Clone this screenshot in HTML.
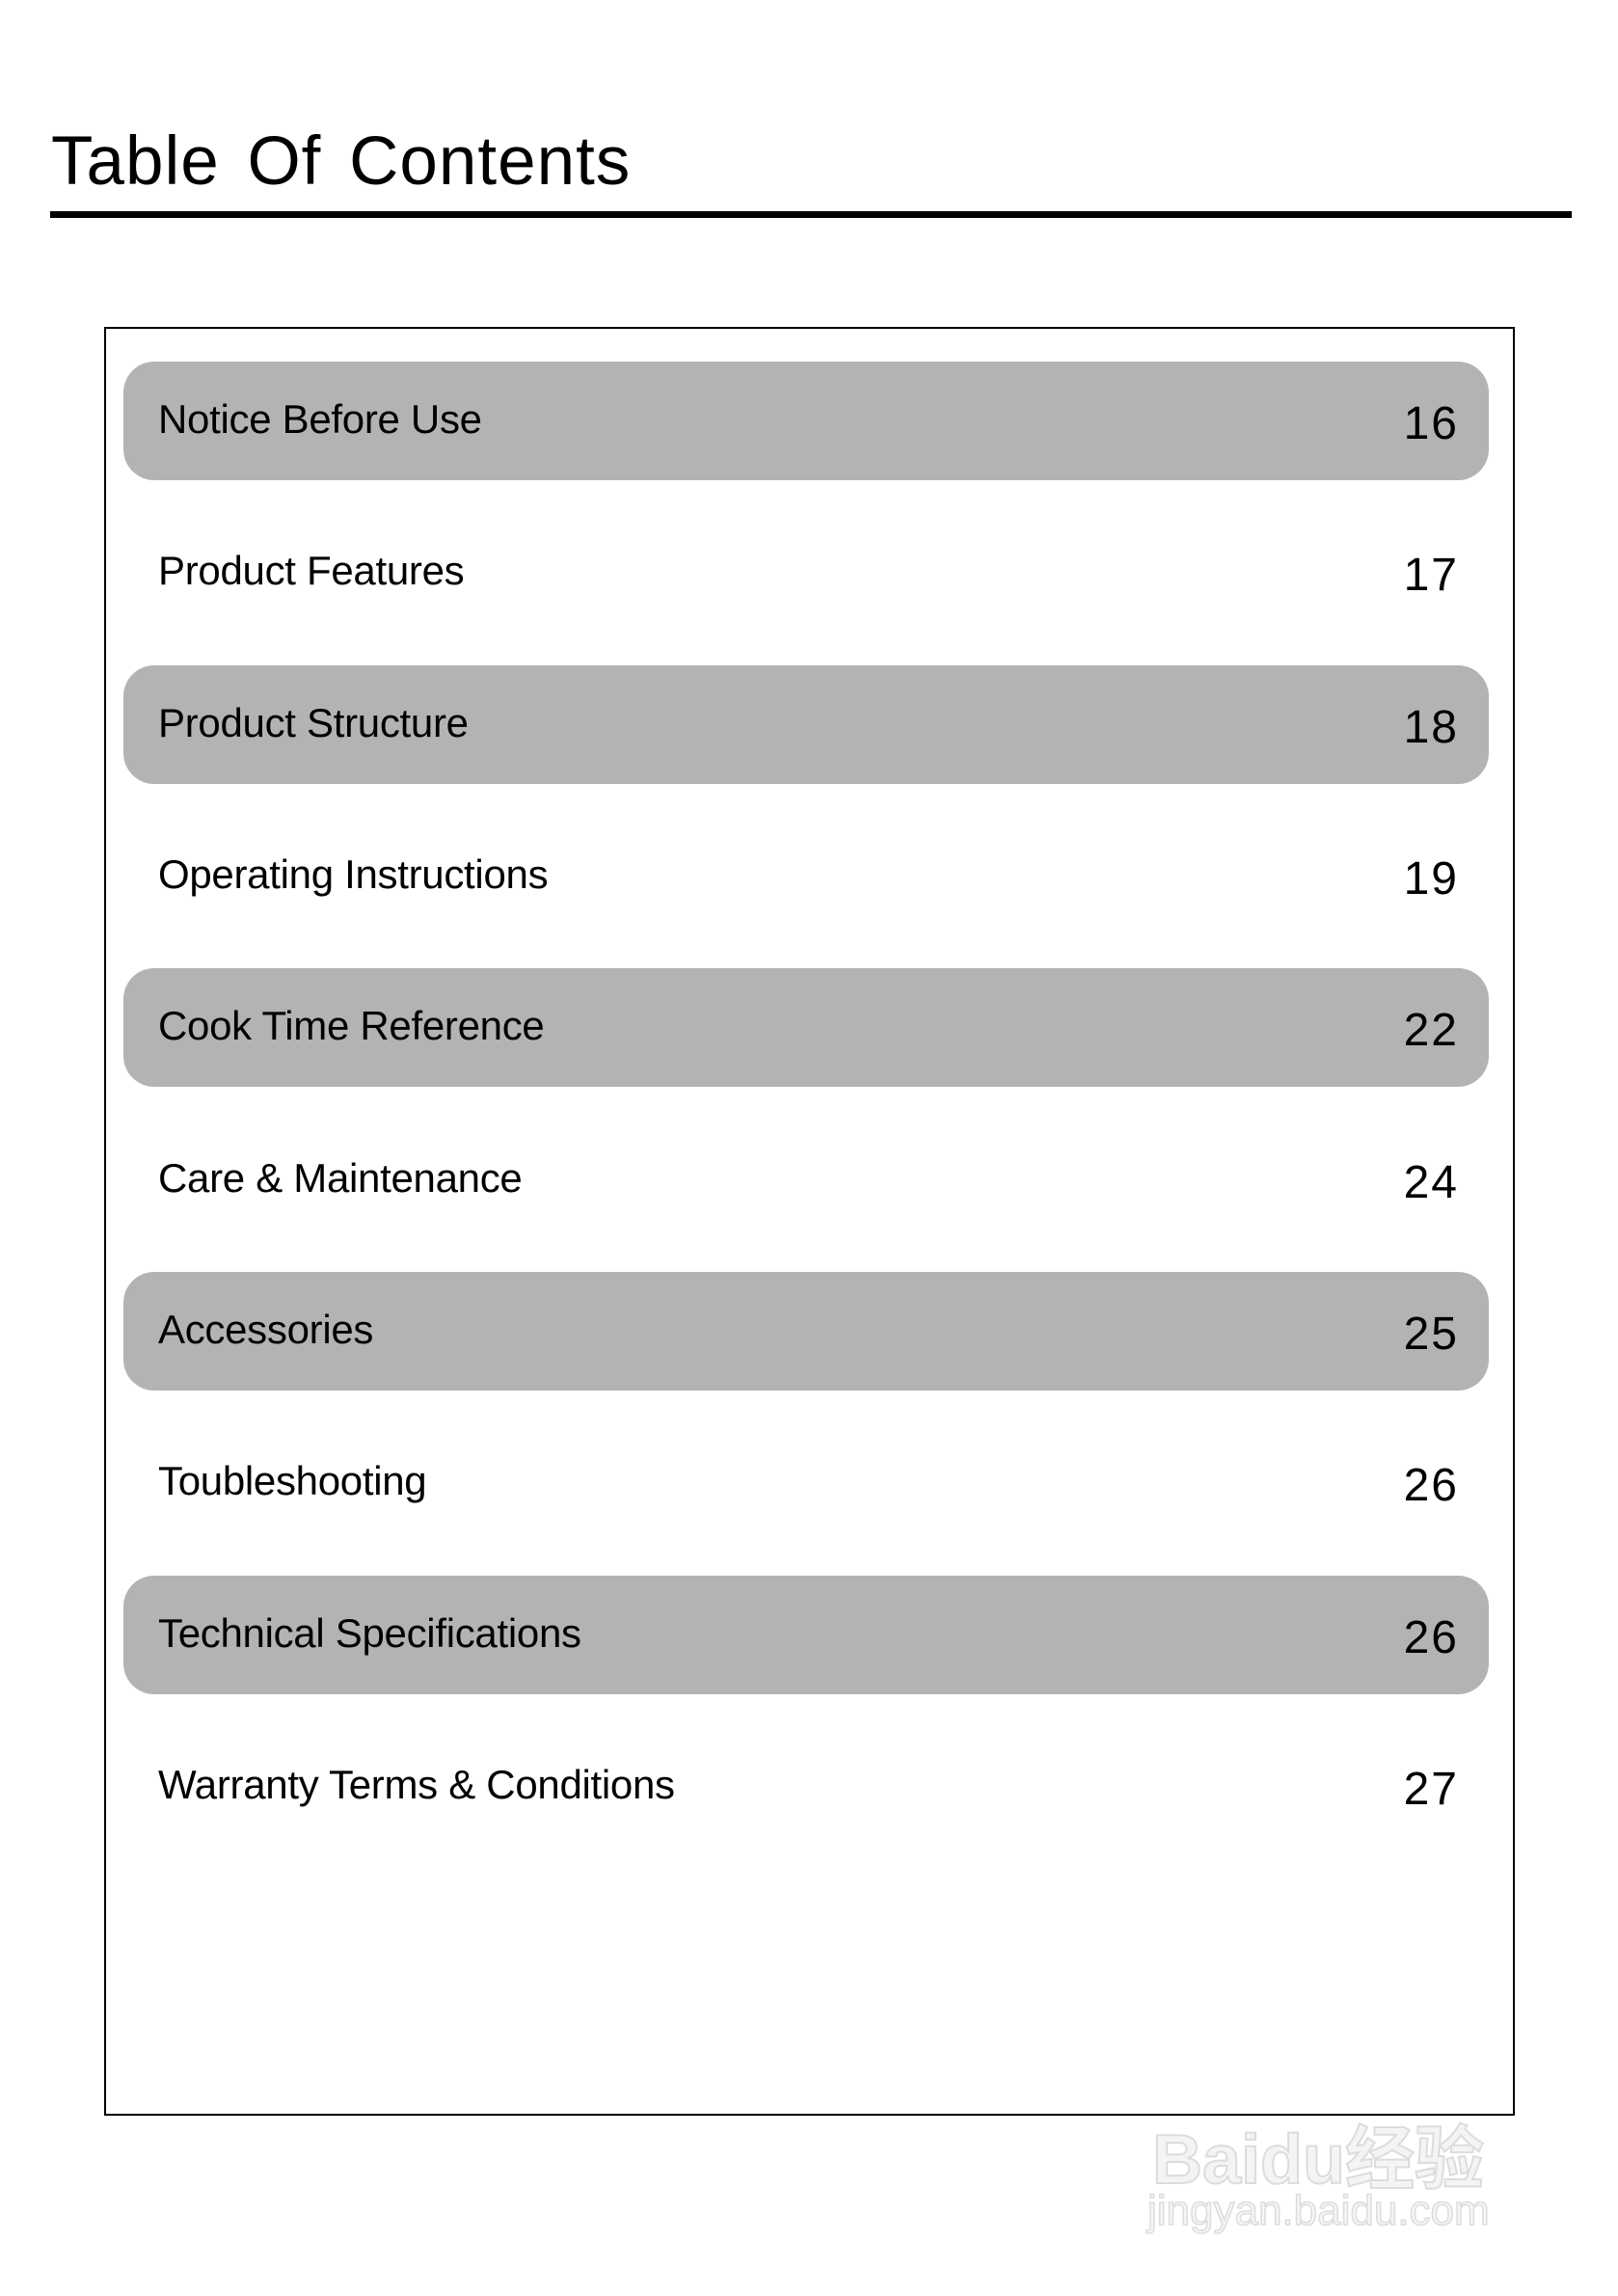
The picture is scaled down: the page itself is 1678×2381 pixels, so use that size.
<!DOCTYPE html>
<html><head><meta charset="utf-8"><style>
html,body{margin:0;padding:0;background:#fff;}
body{width:1678px;height:2381px;position:relative;overflow:hidden;font-family:"Liberation Sans",sans-serif;color:#000;}
.title{position:absolute;left:53px;top:128px;font-size:71px;line-height:80px;word-spacing:8px;letter-spacing:1px;}
.rule{position:absolute;left:52px;top:219px;width:1578px;height:7px;background:#000;}
.box{position:absolute;left:108px;top:339px;width:1459px;height:1851px;border:2px solid #000;}
.row{position:absolute;left:128px;width:1416px;height:123px;border-radius:32px;}
.g{background:#b3b3b3;}
.lab{position:absolute;left:36px;top:-2px;line-height:123px;font-size:42px;letter-spacing:-0.3px;}
.num{position:absolute;right:31px;top:3px;line-height:123px;font-size:48px;letter-spacing:2px;}
</style></head><body>
<div class="title">Table Of Contents</div>
<div class="rule"></div>
<div class="box"></div>
<div class="row g" style="top:375px"><span class="lab">Notice Before Use</span><span class="num">16</span></div>
<div class="row" style="top:532px"><span class="lab">Product Features</span><span class="num">17</span></div>
<div class="row g" style="top:690px"><span class="lab">Product Structure</span><span class="num">18</span></div>
<div class="row" style="top:847px"><span class="lab">Operating Instructions</span><span class="num">19</span></div>
<div class="row g" style="top:1004px"><span class="lab">Cook Time Reference</span><span class="num">22</span></div>
<div class="row" style="top:1162px"><span class="lab">Care &amp; Maintenance</span><span class="num">24</span></div>
<div class="row g" style="top:1319px"><span class="lab">Accessories</span><span class="num">25</span></div>
<div class="row" style="top:1476px"><span class="lab">Toubleshooting</span><span class="num">26</span></div>
<div class="row g" style="top:1634px"><span class="lab">Technical Specifications</span><span class="num">26</span></div>
<div class="row" style="top:1791px"><span class="lab">Warranty Terms &amp; Conditions</span><span class="num">27</span></div>
<div style="position:absolute;left:1195px;top:2180px;font-size:72px;font-weight:bold;color:#f4f4f4;-webkit-text-stroke:2px #dcdcdc;font-family:'Liberation Sans','Noto Sans CJK SC',sans-serif;">Baidu经验</div>
<div style="position:absolute;left:1190px;top:2268px;font-size:44px;color:#f6f6f6;-webkit-text-stroke:1.5px #dcdcdc;">jingyan.baidu.com</div>
</body></html>
